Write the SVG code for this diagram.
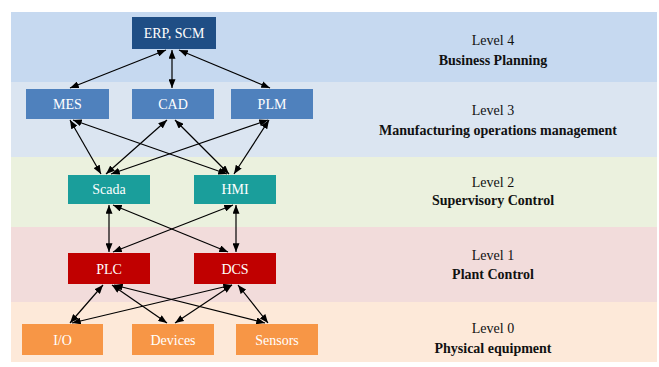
<svg xmlns="http://www.w3.org/2000/svg" width="659" height="367" viewBox="0 0 659 367">
<defs>
<marker id="ah" viewBox="0 0 10 8" refX="10" refY="4" markerWidth="9" markerHeight="7" markerUnits="userSpaceOnUse" orient="auto-start-reverse">
<path d="M0,0 L10,4 L0,8 z" fill="#000"/>
</marker>
</defs>
<style>
.lbl{font-family:"Liberation Serif","Times New Roman",serif;font-size:14px;fill:#fff;text-anchor:middle}
.lv{font-family:"Liberation Serif","Times New Roman",serif;font-size:14px;fill:#111;text-anchor:middle}
.lvb{font-family:"Liberation Serif","Times New Roman",serif;font-size:14px;font-weight:bold;fill:#111;text-anchor:middle}
.c line{stroke:#000;stroke-width:1.2;marker-start:url(#ah);marker-end:url(#ah)}
.n4{fill:#1f4e85}
.n3{fill:#4f81bd}
.n2{fill:#1a9e9b}
.n1{fill:#c00000}
.n0{fill:#f79646}
</style>
<rect width="659" height="367" fill="#fff"/>
<g id="bands">
<rect x="11" y="12" width="646" height="70" fill="#c6d9f0"/>
<rect x="11" y="82" width="646" height="75" fill="#dbe5f1"/>
<rect x="11" y="157" width="646" height="70" fill="#ebf1de"/>
<rect x="11" y="227" width="646" height="75" fill="#f2dcdb"/>
<rect x="11" y="302" width="646" height="60" fill="#fde9d9"/>
</g>
<g id="levels">
<text class="lv" x="493" y="45">Level 4</text>
<text class="lvb" x="493" y="65">Business Planning</text>
<text class="lv" x="493" y="115">Level 3</text>
<text class="lvb" x="498" y="135">Manufacturing operations management</text>
<text class="lv" x="493" y="187">Level 2</text>
<text class="lvb" x="493" y="205">Supervisory Control</text>
<text class="lv" x="493" y="260">Level 1</text>
<text class="lvb" x="493" y="279">Plant Control</text>
<text class="lv" x="493" y="333">Level 0</text>
<text class="lvb" x="493" y="353">Physical equipment</text>
</g>
<g id="connectors" class="c">
<line x1="166" y1="50" x2="70" y2="88"/>
<line x1="172" y1="50" x2="172" y2="88"/>
<line x1="179" y1="50" x2="270" y2="88"/>
<line x1="70" y1="120" x2="101" y2="174"/>
<line x1="73" y1="120" x2="227" y2="174"/>
<line x1="167" y1="120" x2="106" y2="174"/>
<line x1="175" y1="120" x2="229" y2="174"/>
<line x1="268" y1="120" x2="111" y2="174"/>
<line x1="269" y1="120" x2="234" y2="174"/>
<line x1="109" y1="205" x2="109" y2="252"/>
<line x1="113" y1="205" x2="228" y2="252"/>
<line x1="233" y1="205" x2="113" y2="252"/>
<line x1="236" y1="205" x2="236" y2="252"/>
<line x1="103" y1="285" x2="70" y2="323"/>
<line x1="112" y1="285" x2="167" y2="323"/>
<line x1="114" y1="285" x2="265" y2="323"/>
<line x1="232" y1="285" x2="72" y2="323"/>
<line x1="232" y1="285" x2="175" y2="323"/>
<line x1="238" y1="285" x2="268" y2="323"/>
</g>
<g id="erp"><rect class="n4" x="132" y="17" width="84" height="32"/><text class="lbl" x="174" y="38">ERP, SCM</text></g>
<g id="mes"><rect class="n3" x="26" y="89" width="83" height="30"/><text class="lbl" x="67.5" y="109">MES</text></g>
<g id="cad"><rect class="n3" x="132" y="89" width="82" height="30"/><text class="lbl" x="173" y="109">CAD</text></g>
<g id="plm"><rect class="n3" x="231" y="89" width="82" height="30"/><text class="lbl" x="272" y="109">PLM</text></g>
<g id="scada"><rect class="n2" x="68" y="175" width="82" height="29"/><text class="lbl" x="109" y="194">Scada</text></g>
<g id="hmi"><rect class="n2" x="194" y="175" width="82" height="29"/><text class="lbl" x="235" y="194">HMI</text></g>
<g id="plc"><rect class="n1" x="68" y="253" width="82" height="31"/><text class="lbl" x="109" y="274">PLC</text></g>
<g id="dcs"><rect class="n1" x="194" y="253" width="82" height="31"/><text class="lbl" x="235" y="274">DCS</text></g>
<g id="io"><rect class="n0" x="22" y="324" width="81" height="31"/><text class="lbl" x="62.5" y="345">I/O</text></g>
<g id="devices"><rect class="n0" x="132" y="324" width="82" height="31"/><text class="lbl" x="173" y="345">Devices</text></g>
<g id="sensors"><rect class="n0" x="236" y="324" width="82" height="31"/><text class="lbl" x="277" y="345">Sensors</text></g>
</svg>
